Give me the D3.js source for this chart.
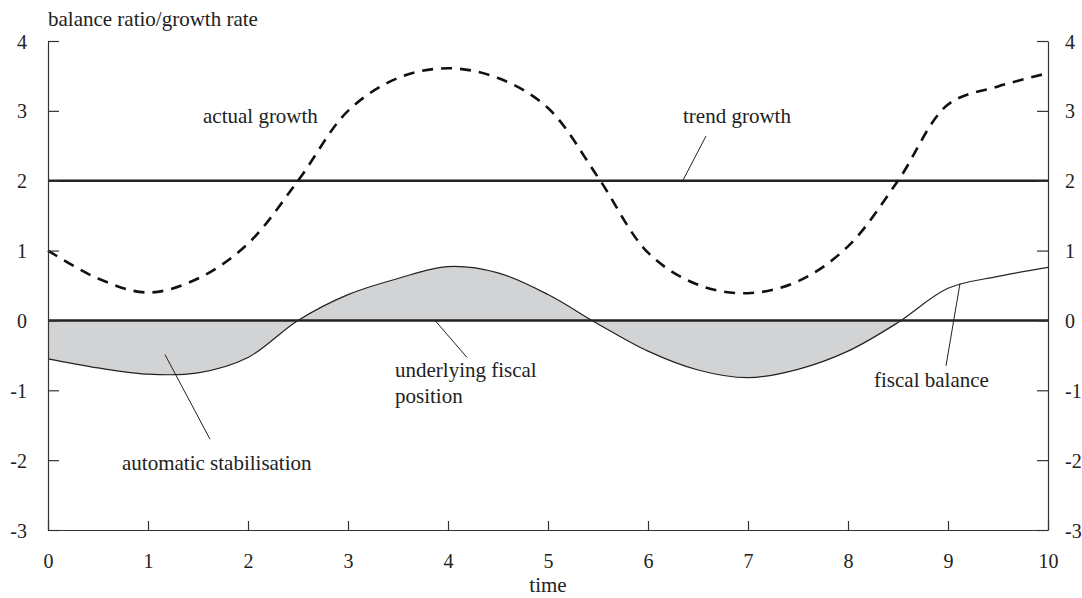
<!DOCTYPE html>
<meta charset="utf-8">
<style>
body { margin: 0; background: #fff; }
svg, svg text { font-family: "Liberation Serif", "Times New Roman", "DejaVu Serif", serif; }
svg { display: block; }
.axis path, .axis line { stroke: #333; stroke-width: 1.2; }
.axis text { font-size: 20px; fill: #222; }
.note { font-size: 21px; fill: #222; }
.leader { stroke: #222; stroke-width: 1; fill: none; }
</style>
<svg width="1082" height="598"></svg>
<script src="https://cdn.jsdelivr.net/npm/d3@7/dist/d3.min.js"></script>
<script>

// time points (0.5 steps) and values
var times = [0, 0.5, 1, 1.5, 2, 2.5, 3, 3.5, 4, 4.5, 5, 5.5, 6, 6.5, 7, 7.5, 8, 8.5, 9, 9.5, 10];
var actualGrowth = [1.0, 0.6, 0.4, 0.6, 1.1, 2.0, 3.0, 3.47, 3.61, 3.47, 3.04, 2.05, 0.97, 0.51, 0.39, 0.56, 1.06, 2.0, 3.09, 3.35, 3.54];
var fiscalBalance = [-0.55, -0.68, -0.77, -0.75, -0.53, 0.0, 0.37, 0.6, 0.77, 0.68, 0.37, -0.05, -0.44, -0.71, -0.82, -0.7, -0.44, -0.03, 0.46, 0.63, 0.76];
var trendGrowth = 2;
var underlying = 0;
var shadeUntil = 8.5;

var xTicks = [0, 1, 2, 3, 4, 5, 6, 7, 8, 9, 10];
var yTicks = [-3, -2, -1, 0, 1, 2, 3, 4];

var notes = [
  { lines: ["actual growth"], x: 1.55, y: 2.83 },
  { lines: ["trend growth"], x: 6.35, y: 2.83, from: [6.58, 2.64], to: [6.34, 1.98] },
  { lines: ["underlying fiscal", "position"], x: 3.47, y: -0.81, from: [4.19, -0.53], to: [3.87, 0.0] },
  { lines: ["automatic stabilisation"], x: 0.74, y: -2.14, from: [1.17, -0.49], to: [1.62, -1.7] },
  { lines: ["fiscal balance"], x: 8.26, y: -0.95, from: [8.98, -0.65], to: [9.12, 0.53] }
];

var svg = d3.select("svg");
var x = d3.scaleLinear().domain([0, 10]).range([48, 1048]);
var y = d3.scaleLinear().domain([-3, 4]).range([530, 41]);

var pts = function(vals) { return times.map(function(t, i) { return [t, vals[i]]; }); };
var curve = d3.curveCatmullRom.alpha(0.5);

// shaded gap between fiscal balance and underlying position
var shade = pts(fiscalBalance).filter(function(d) { return d[0] <= shadeUntil; });
shade.push([shadeUntil + 0.03, underlying]);
svg.append("path")
    .datum(shade)
    .attr("fill", "#d2d3d5")
    .attr("d", d3.area()
      .x(function(d) { return x(d[0]); })
      .y0(y(underlying))
      .y1(function(d) { return y(d[1]); })
      .curve(curve));

var line = d3.line()
    .x(function(d) { return x(d[0]); })
    .y(function(d) { return y(d[1]); })
    .curve(curve);

svg.append("path")
    .datum(pts(fiscalBalance))
    .attr("fill", "none")
    .attr("stroke", "#222")
    .attr("stroke-width", 1.2)
    .attr("d", line);

[trendGrowth, underlying].forEach(function(v) {
  svg.append("line")
      .attr("x1", x(0)).attr("x2", x(10))
      .attr("y1", y(v)).attr("y2", y(v))
      .attr("stroke", "#222")
      .attr("stroke-width", 2.6);
});

svg.append("path")
    .datum(pts(actualGrowth))
    .attr("fill", "none")
    .attr("stroke", "#111")
    .attr("stroke-width", 2.6)
    .attr("stroke-dasharray", "11,8")
    .attr("d", line);

// axes: left, right, bottom with inward ticks
svg.append("g").attr("class", "axis")
    .attr("transform", "translate(" + x(0) + ",0)")
    .call(d3.axisRight(y).tickValues(yTicks).tickSize(11).tickSizeOuter(0).tickFormat(""))
    .call(function(g) { g.selectAll(".tick").append("text").attr("x", -21).attr("dy", "0.35em").attr("text-anchor", "end").text(function(d) { return d; }); });

svg.append("g").attr("class", "axis")
    .attr("transform", "translate(" + x(10) + ",0)")
    .call(d3.axisLeft(y).tickValues(yTicks).tickSize(11).tickSizeOuter(0).tickFormat(""))
    .call(function(g) { g.selectAll(".tick").append("text").attr("x", 17).attr("dy", "0.35em").attr("text-anchor", "start").text(function(d) { return d; }); });

svg.append("g").attr("class", "axis")
    .attr("transform", "translate(0," + y(-3) + ")")
    .call(d3.axisTop(x).tickValues(xTicks).tickSize(9).tickSizeOuter(0).tickFormat(""))
    .call(function(g) { g.selectAll(".tick").append("text").attr("y", 38).attr("text-anchor", "middle").text(function(d) { return d; }); });

svg.selectAll(".axis").attr("font-family", null).attr("font-size", null);
svg.selectAll(".axis .domain").attr("fill", "none");

svg.append("text").attr("class", "note")
    .attr("x", x(0)).attr("y", 26)
    .text("balance ratio/growth rate");

svg.append("text").attr("class", "note")
    .attr("x", x(5)).attr("y", 592)
    .attr("text-anchor", "middle")
    .text("time");

notes.forEach(function(n) {
  var t = svg.append("text").attr("class", "note")
      .attr("x", x(n.x)).attr("y", y(n.y));
  n.lines.forEach(function(s, i) {
    t.append("tspan").attr("x", x(n.x)).attr("dy", i ? 26 : 0).text(s);
  });
  if (n.from) {
    svg.append("line").attr("class", "leader")
        .attr("x1", x(n.from[0])).attr("y1", y(n.from[1]))
        .attr("x2", x(n.to[0])).attr("y2", y(n.to[1]));
  }
});

</script>
